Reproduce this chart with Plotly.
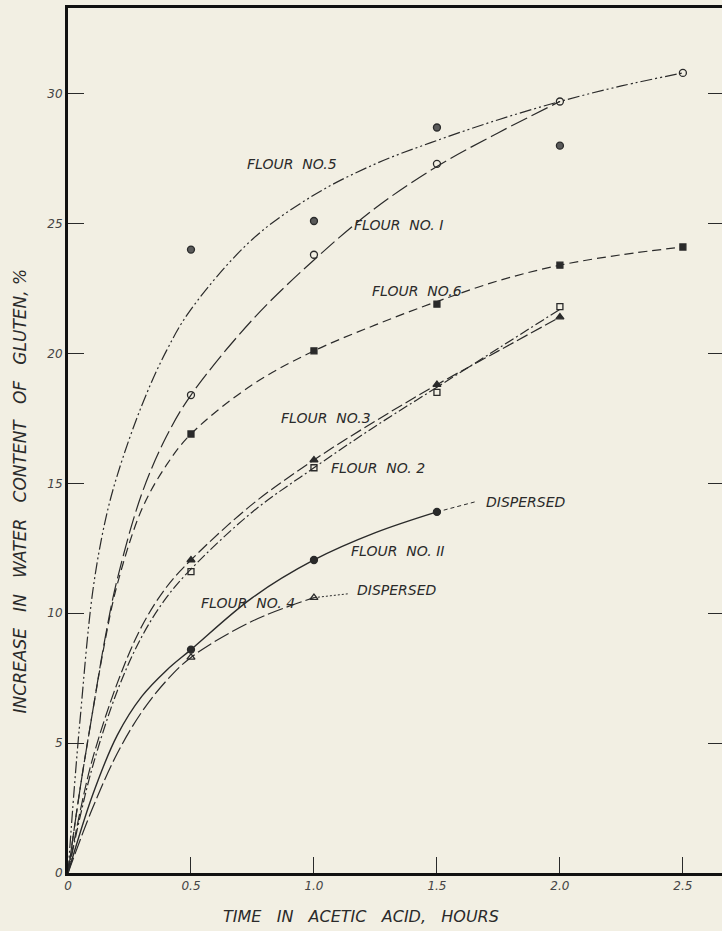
import plotly.graph_objects as go

# --- measured points (hours in acetic acid, % increase in water content) ---
t_pts = [0.5, 1.0, 1.5, 2.0, 2.5]

flour5_pts = [24.0, 25.1, 28.7, 28.0]
flour1_pts = [18.4, 23.8, 27.3, 29.7, 30.8]
flour6_pts = [16.9, 20.1, 21.9, 23.4, 24.1]
flour3_pts = [12.05, 15.9, 18.8, 21.4]
flour2_pts = [11.6, 15.6, 18.5, 21.8]
flour11_pts = [8.6, 12.05, 13.9]
flour4_pts = [8.3, 10.6]

# --- smoothed curves drawn through each series ---
flour5_ct = [0, 0.025, 0.05, 0.1, 0.15, 0.2, 0.3, 0.4, 0.5, 0.75, 1.0, 1.25, 1.5, 1.75, 2.0, 2.25, 2.5]
flour5_cv = [0, 3.2, 6.0, 10.8, 13.5, 15.3, 18.0, 20.1, 21.7, 24.4, 26.1, 27.3, 28.2, 29.0, 29.7, 30.3, 30.8]

flour1_ct = [0, 0.05, 0.1, 0.15, 0.2, 0.3, 0.4, 0.5, 0.75, 1.0, 1.25, 1.5, 1.75, 2.0]
flour1_cv = [0, 3.3, 6.2, 9.0, 11.3, 14.6, 16.8, 18.4, 21.3, 23.6, 25.6, 27.2, 28.5, 29.7]

flour6_ct = [0, 0.05, 0.1, 0.15, 0.2, 0.3, 0.4, 0.5, 0.75, 1.0, 1.25, 1.5, 1.75, 2.0, 2.25, 2.5]
flour6_cv = [0, 3.3, 6.2, 8.9, 11.1, 14.0, 15.7, 16.9, 18.8, 20.1, 21.1, 22.0, 22.8, 23.4, 23.8, 24.1]

flour3_ct = [0, 0.05, 0.1, 0.2, 0.3, 0.4, 0.5, 0.75, 1.0, 1.25, 1.5, 1.75, 2.0]
flour3_cv = [0, 2.4, 4.4, 7.3, 9.5, 11.0, 12.05, 14.2, 15.9, 17.4, 18.8, 20.1, 21.4]

flour2_ct = [0, 0.05, 0.1, 0.2, 0.3, 0.4, 0.5, 0.75, 1.0, 1.25, 1.5, 1.75, 2.0]
flour2_cv = [0, 2.2, 4.1, 7.0, 9.1, 10.6, 11.7, 13.9, 15.6, 17.2, 18.7, 20.2, 21.7]

flour11_ct = [0, 0.1, 0.2, 0.3, 0.4, 0.5, 0.75, 1.0, 1.25, 1.5]
flour11_cv = [0, 3.0, 5.3, 6.8, 7.8, 8.6, 10.6, 12.05, 13.1, 13.9]
flour11_disp_t = [1.5, 1.66]
flour11_disp_v = [13.9, 14.3]

flour4_ct = [0, 0.1, 0.2, 0.3, 0.4, 0.5, 0.75, 1.0]
flour4_cv = [0, 2.5, 4.6, 6.2, 7.4, 8.3, 9.7, 10.6]
flour4_disp_t = [1.0, 1.14]
flour4_disp_v = [10.6, 10.75]

x_ticks = [0, 0.5, 1.0, 1.5, 2.0, 2.5]
x_ticktext = ["0", "0.5", "1.0", "1.5", "2.0", "2.5"]
y_ticks = [0, 5, 10, 15, 20, 25, 30]
y_ticktext = ["0", "5", "10", "15", "20", "25", "30"]

INK = "#2a2a2a"
PAPER = "#f2efe3"
FONT = "DejaVu Sans"

fig = go.Figure()


def curve(t, v, dash, width=1.2):
    fig.add_trace(go.Scatter(
        x=t, y=v, mode="lines",
        line=dict(color=INK, width=width, dash=dash, shape="spline", smoothing=1.0),
        hoverinfo="skip", showlegend=False))


def points(v, symbol, fill, size=7):
    fig.add_trace(go.Scatter(
        x=t_pts[:len(v)], y=v, mode="markers",
        marker=dict(symbol=symbol, size=size, color=fill,
                    line=dict(color=INK, width=1.3)),
        hoverinfo="skip", showlegend=False))


curve(flour5_ct, flour5_cv, "12px,3px,2px,3px,2px,3px")
curve(flour1_ct, flour1_cv, "18px,5px")
curve(flour6_ct, flour6_cv, "9px,5px")
curve(flour3_ct, flour3_cv, "12px,4px")
curve(flour2_ct, flour2_cv, "10px,3px,2px,3px")
curve(flour11_ct, flour11_cv, "solid", 1.4)
curve(flour11_disp_t, flour11_disp_v, "4px,3px", 1.0)
curve(flour4_ct, flour4_cv, "16px,4px")
curve(flour4_disp_t, flour4_disp_v, "2px,2px", 1.0)

points(flour5_pts, "circle", "#5a5a5a")
points(flour1_pts, "circle-open", INK)
points(flour6_pts, "square", INK, 6)
points(flour3_pts, "triangle-up", INK)
points(flour2_pts, "square-open", INK, 6)
points(flour11_pts, "circle", INK)
points(flour4_pts, "triangle-up-open", INK)

# invisible trace so the right-hand tick axis is laid out
fig.add_trace(go.Scatter(x=[0], y=[0], yaxis="y2", mode="markers",
                         marker=dict(opacity=0), hoverinfo="skip", showlegend=False))

label_font = dict(family=FONT, size=14, color=INK, style="italic")


def label(x, y, text, anchor="center"):
    fig.add_annotation(x=x, y=y, text=text, showarrow=False, xanchor=anchor,
                       yanchor="middle", font=label_font)


label(0.91, 27.3, "FLOUR  NO.5")
label(1.345, 24.95, "FLOUR  NO. I")
label(1.42, 22.4, "FLOUR  NO.6")
label(1.05, 17.5, "FLOUR  NO.3")
label(1.06, 15.6, "FLOUR  NO. 2", "left")
label(1.69, 14.3, "DISPERSED", "left")
label(1.34, 12.4, "FLOUR  NO. II")
label(1.165, 10.9, "DISPERSED", "left")
label(0.73, 10.4, "FLOUR  NO. 4")

fig.add_annotation(xref="paper", x=-0.073, y=14.7, yref="y",
                   text="INCREASE   IN   WATER   CONTENT   OF   GLUTEN, %",
                   textangle=-90, showarrow=False,
                   font=dict(family=FONT, size=17, color=INK, style="italic"),
                   xanchor="center", yanchor="middle")
fig.add_annotation(xref="x", x=1.19, yref="paper", y=-0.05,
                   text="TIME   IN   ACETIC   ACID,   HOURS",
                   showarrow=False,
                   font=dict(family=FONT, size=16, color=INK, style="italic"),
                   xanchor="center", yanchor="middle")

tick_font = dict(family=FONT, size=12, color="#444", style="italic")

fig.update_layout(
    width=722, height=931,
    margin=dict(l=68, r=0, t=8, b=58),
    paper_bgcolor=PAPER, plot_bgcolor=PAPER,
    showlegend=False,
    xaxis=dict(range=[0, 2.659], tickvals=x_ticks, ticktext=x_ticktext,
               ticks="inside", ticklen=16, tickwidth=1, tickcolor=INK,
               showline=True, linewidth=3, linecolor="#111", mirror=True,
               showgrid=False, zeroline=False, tickfont=tick_font),
    yaxis=dict(range=[0, 33.3], tickvals=y_ticks, ticktext=y_ticktext,
               ticks="inside", ticklen=16, tickwidth=1, tickcolor=INK,
               showline=True, linewidth=3, linecolor="#111",
               showgrid=False, zeroline=False, tickfont=tick_font),
    yaxis2=dict(range=[0, 33.3], overlaying="y", side="right",
                tickvals=y_ticks, ticks="inside", ticklen=14, tickwidth=1,
                tickcolor=INK, showticklabels=False, showline=False,
                showgrid=False, zeroline=False),
)

fig.write_html("out.html")
